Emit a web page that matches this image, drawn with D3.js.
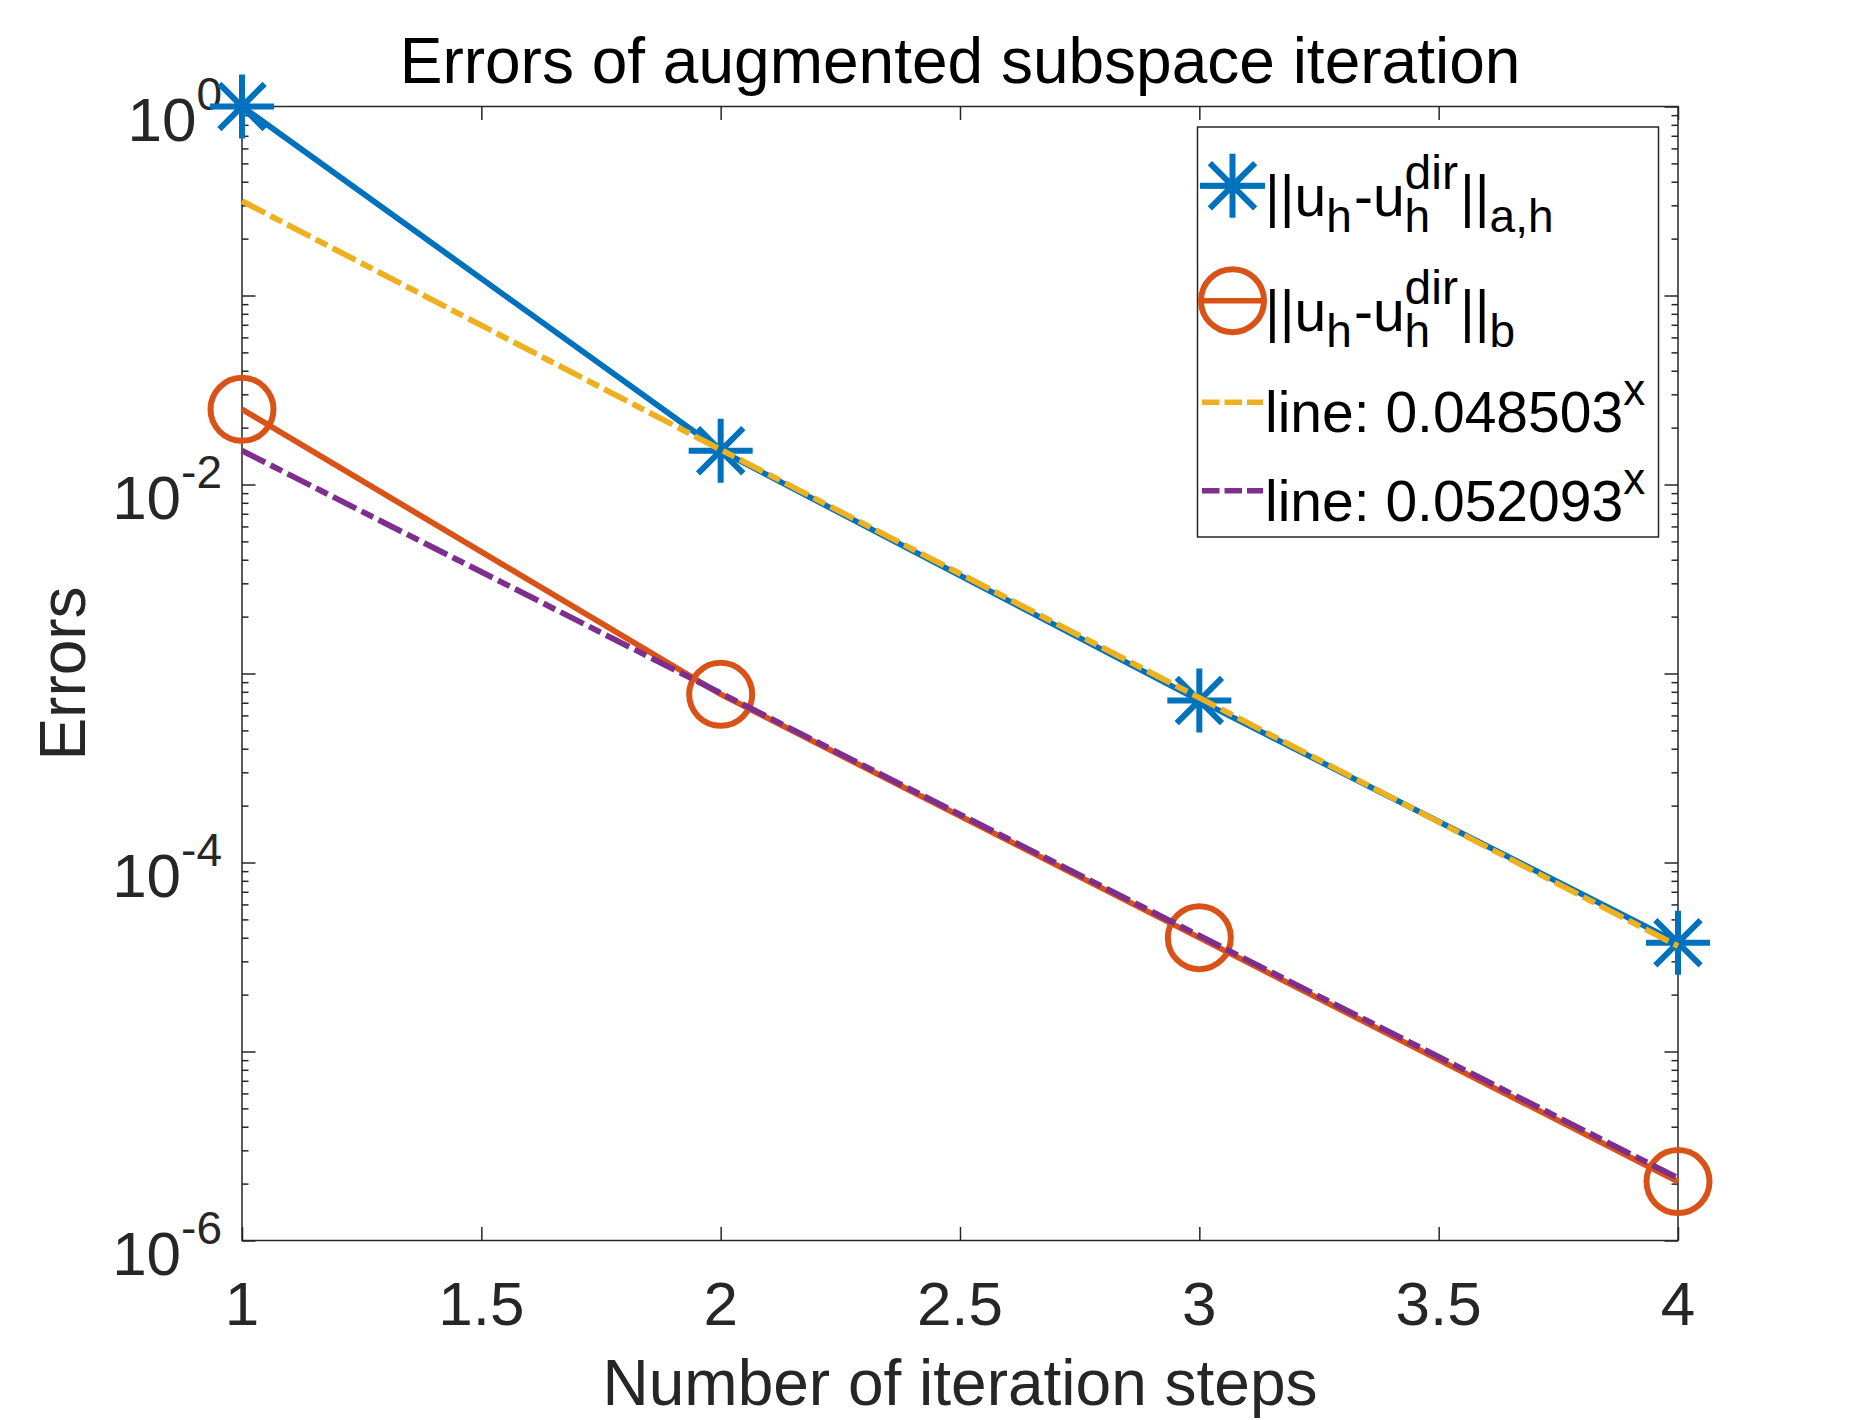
<!DOCTYPE html>
<html>
<head>
<meta charset="utf-8">
<script src="https://cdn.jsdelivr.net/npm/d3@7"></script>
<style>
  body { margin: 0; background: #fff; }
  text { font-family: "Liberation Sans", Arial, Helvetica, sans-serif; }
</style>
</head>
<body>
<script>
// data
var steps = [1, 2, 3, 4];
var errA = [1.0, 0.0151, 7.2e-4, 3.76e-5];      // ||u_h - u_h^dir||_{a,h}
var errB = [0.025, 7.76e-4, 4.0e-5, 2.05e-6];   // ||u_h - u_h^dir||_b
var fitA = [0.316, 0.0153, 7.44e-4, 3.61e-5];   // line: 0.048503^x
var fitB = [0.0151, 7.87e-4, 4.1e-5, 2.14e-6];  // line: 0.052093^x
var xTicks = [1, 1.5, 2, 2.5, 3, 3.5, 4];
var yExps = [-6, -4, -2, 0];
var fitLabels = ["0.048503", "0.052093"];

var W = 1855, H = 1420;
// plot box (window.top is read-only, so no "top" here)
var pL = 242, pR = 1678, pT = 106.5, pB = 1240.5;
var axisCol = "#262626";
var cBlue = "#0072BD", cOrange = "#D95319", cYellow = "#EDB120", cPurple = "#7E2F8E";
var lw = 5.8;

var svg = d3.select("body").append("svg").attr("width", W).attr("height", H);
svg.append("rect").attr("width", W).attr("height", H).attr("fill", "#fff");

var x = d3.scaleLinear().domain([1, 4]).range([pL, pR]);
var y = d3.scaleLog().domain([1e-6, 1]).range([pB, pT]);

var majors = d3.range(-6, 1).map(e => Math.pow(10, e));
var minors = [];
for (var e = -6; e < 0; e++) for (var m = 2; m <= 9; m++) minors.push(m * Math.pow(10, e));

// ticks, all pointing inward, on all four sides
function tickStyle(g) {
  g.select(".domain").remove();
  g.selectAll("line").attr("stroke", axisCol).attr("stroke-width", 1.5);
}
svg.append("g").attr("transform", "translate(" + pL + ",0)")
  .call(d3.axisLeft(y).tickValues(majors).tickSize(-13.5).tickFormat("")).call(tickStyle);
svg.append("g").attr("transform", "translate(" + pL + ",0)")
  .call(d3.axisLeft(y).tickValues(minors).tickSize(-6.5).tickFormat("")).call(tickStyle);
svg.append("g").attr("transform", "translate(" + pR + ",0)")
  .call(d3.axisRight(y).tickValues(majors).tickSize(-13.5).tickFormat("")).call(tickStyle);
svg.append("g").attr("transform", "translate(" + pR + ",0)")
  .call(d3.axisRight(y).tickValues(minors).tickSize(-6.5).tickFormat("")).call(tickStyle);
svg.append("g").attr("transform", "translate(0," + pB + ")")
  .call(d3.axisBottom(x).tickValues(xTicks).tickSize(-13.5).tickFormat("")).call(tickStyle);
svg.append("g").attr("transform", "translate(0," + pT + ")")
  .call(d3.axisTop(x).tickValues(xTicks).tickSize(-13.5).tickFormat("")).call(tickStyle);

svg.append("rect").attr("x", pL).attr("y", pT)
  .attr("width", pR - pL).attr("height", pB - pT)
  .attr("fill", "none").attr("stroke", axisCol).attr("stroke-width", 1.5);

// tick labels
svg.selectAll(".xl").data(xTicks).enter().append("text")
  .attr("x", d => x(d)).attr("y", pB + 84)
  .attr("text-anchor", "middle").attr("font-size", 62).attr("fill", axisCol)
  .text(d => d);

var yl = svg.selectAll(".yl").data(yExps).enter().append("text")
  .attr("x", 222).attr("y", d => y(Math.pow(10, d)) + 34)
  .attr("text-anchor", "end").attr("fill", axisCol);
yl.append("tspan").attr("font-size", 62).text("10");
yl.append("tspan").attr("font-size", 46).attr("dy", -31).text(d => d);

// title and axis labels
svg.append("text").attr("x", (pL + pR) / 2).attr("y", 83)
  .attr("text-anchor", "middle").attr("font-size", 64).attr("fill", "#000")
  .text("Errors of augmented subspace iteration");
svg.append("text").attr("x", (pL + pR) / 2).attr("y", 1405)
  .attr("text-anchor", "middle").attr("font-size", 64).attr("fill", axisCol)
  .text("Number of iteration steps");
svg.append("text").attr("transform", "translate(85," + ((pT + pB) / 2) + ") rotate(-90)")
  .attr("text-anchor", "middle").attr("font-size", 64).attr("fill", axisCol)
  .text("Errors");

// series
var line = d3.line().x((d, i) => x(steps[i])).y(d => y(d));
var dashDot = "26,6,13,6";

function starPath(r) {
  var d = r / Math.SQRT2;
  return "M" + (-r) + ",0L" + r + ",0M0," + (-r) + "L0," + r +
    "M" + (-d) + "," + (-d) + "L" + d + "," + d + "M" + (-d) + "," + d + "L" + d + "," + (-d);
}

svg.append("path").datum(errA).attr("d", line)
  .attr("fill", "none").attr("stroke", cBlue).attr("stroke-width", lw);
svg.selectAll(".sa").data(errA).enter().append("path")
  .attr("transform", (d, i) => "translate(" + x(steps[i]) + "," + y(d) + ")")
  .attr("d", starPath(32)).attr("stroke", cBlue).attr("stroke-width", 6).attr("fill", "none");

svg.append("path").datum(errB).attr("d", line)
  .attr("fill", "none").attr("stroke", cOrange).attr("stroke-width", lw);
svg.selectAll(".sb").data(errB).enter().append("circle")
  .attr("cx", (d, i) => x(steps[i])).attr("cy", d => y(d)).attr("r", 31.5)
  .attr("stroke", cOrange).attr("stroke-width", 6).attr("fill", "none");

svg.append("path").datum(fitA).attr("d", line)
  .attr("fill", "none").attr("stroke", cYellow).attr("stroke-width", lw).attr("stroke-dasharray", dashDot);
svg.append("path").datum(fitB).attr("d", line)
  .attr("fill", "none").attr("stroke", cPurple).attr("stroke-width", lw).attr("stroke-dasharray", dashDot);

// legend
var lg = svg.append("g");
lg.append("rect").attr("x", 1197.5).attr("y", 127).attr("width", 461).attr("height", 410)
  .attr("fill", "#fff").attr("stroke", axisCol).attr("stroke-width", 1.5);

// tex-like text: n = normal, b = sub, p = sup, stack = sub and sup at the same x
function rich(x0, y0, parts, supSize) {
  var cx = x0;
  parts.forEach(function (p) {
    var items = p.stack ? p.stack : [p];
    var wmax = 0;
    items.forEach(function (q) {
      var fs = q.k === "n" ? 57 : (q.k === "p" ? supSize : 46);
      var dy = q.k === "b" ? 16 : (q.k === "p" ? -27 : 0);
      var t = lg.append("text").attr("x", cx).attr("y", y0 + dy)
        .attr("font-size", fs).attr("fill", "#000").text(q.t);
      wmax = Math.max(wmax, t.node().getComputedTextLength());
    });
    cx += wmax + (p.k === "n" ? 0 : 2);
  });
}

var rows = [185.7, 300.7, 402.3, 490.7];
var tx = 1265;

lg.append("line").attr("x1", 1200).attr("x2", 1265).attr("y1", rows[0]).attr("y2", rows[0])
  .attr("stroke", cBlue).attr("stroke-width", 5.5);
lg.append("path").attr("transform", "translate(1232.5," + rows[0] + ")")
  .attr("d", starPath(32)).attr("stroke", cBlue).attr("stroke-width", 6).attr("fill", "none");
rich(tx, rows[0] + 30, [{k: "n", t: "||u"}, {k: "b", t: "h"}, {k: "n", t: "-u"},
  {stack: [{k: "b", t: "h"}, {k: "p", t: "dir"}]}, {k: "n", t: "||"}, {k: "b", t: "a,h"}], 48);

lg.append("line").attr("x1", 1200).attr("x2", 1265).attr("y1", rows[1]).attr("y2", rows[1])
  .attr("stroke", cOrange).attr("stroke-width", 5.5);
lg.append("circle").attr("cx", 1232.5).attr("cy", rows[1]).attr("r", 31.5)
  .attr("stroke", cOrange).attr("stroke-width", 6).attr("fill", "none");
rich(tx, rows[1] + 30, [{k: "n", t: "||u"}, {k: "b", t: "h"}, {k: "n", t: "-u"},
  {stack: [{k: "b", t: "h"}, {k: "p", t: "dir"}]}, {k: "n", t: "||"}, {k: "b", t: "b"}], 48);

[cYellow, cPurple].forEach(function (c, i) {
  var ry = rows[2 + i];
  lg.append("line").attr("x1", 1202).attr("x2", 1263).attr("y1", ry).attr("y2", ry)
    .attr("stroke", c).attr("stroke-width", 5.5).attr("stroke-dasharray", "17.5,5");
  rich(tx, ry + 30, [{k: "n", t: "line: " + fitLabels[i]}, {k: "p", t: "x"}], 44);
});
</script>
</body>
</html>
